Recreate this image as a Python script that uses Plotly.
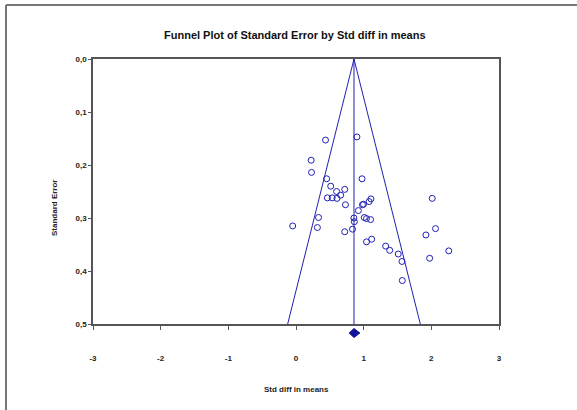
import plotly.graph_objects as go

# Study data
std_diff = [0.436, 0.900, 0.224, 0.229, 0.453, 0.976, 0.513, 0.600, 0.720, 0.464,
            0.535, 0.605, 0.660, 0.731, 1.107, 1.080, 2.013, 0.982, 0.998, 0.922,
            0.333, 0.856, 0.862, 1.009, 1.042, 1.102, -0.049, 0.316, 0.835, 0.720,
            2.062, 1.920, 1.118, 1.042, 1.325, 1.385, 2.258, 1.511, 1.566, 1.975,
            1.571]
std_err = [0.153, 0.147, 0.191, 0.214, 0.226, 0.226, 0.240, 0.250, 0.246, 0.262,
           0.262, 0.263, 0.257, 0.275, 0.264, 0.269, 0.263, 0.275, 0.274, 0.286,
           0.299, 0.300, 0.307, 0.299, 0.301, 0.303, 0.315, 0.318, 0.321, 0.326,
           0.320, 0.332, 0.340, 0.345, 0.353, 0.361, 0.362, 0.368, 0.382, 0.376,
           0.418]
summary_est = 0.857
summary_ci_low = 0.786
summary_ci_high = 0.944
se_max = 0.5
x_ticks = [-3, -2, -1, 0, 1, 2, 3]
y_ticks = [0.0, 0.1, 0.2, 0.3, 0.4, 0.5]

BLUE = "#1f1fb4"
NARROW = "Liberation Sans Narrow, Arial Narrow, Liberation Sans, Arial, sans-serif"

fig = go.Figure()
# funnel
fig.add_trace(go.Scatter(
    x=[summary_est - 1.96 * se_max, summary_est, summary_est + 1.96 * se_max],
    y=[se_max, 0, se_max], mode="lines",
    line=dict(color=BLUE, width=1), hoverinfo="skip", showlegend=False))
fig.add_trace(go.Scatter(
    x=[summary_est, summary_est], y=[0, se_max], mode="lines",
    line=dict(color=BLUE, width=1), hoverinfo="skip", showlegend=False))
# studies
fig.add_trace(go.Scatter(
    x=std_diff, y=std_err, mode="markers",
    marker=dict(symbol="circle-open", size=6, color=BLUE, line=dict(width=1, color=BLUE)),
    showlegend=False))

fig.update_xaxes(
    range=[-3, 3], tickvals=x_ticks, ticktext=[str(v) for v in x_ticks],
    showline=True, linecolor="#555555", linewidth=1.5, mirror=True,
    ticks="outside", ticklen=4, tickcolor="#555555", showgrid=False, zeroline=False,
    ticklabelstandoff=22,
    tickfont=dict(family=NARROW, size=8, color="#222222", weight="bold"))
fig.update_yaxes(
    range=[0.5, 0], tickvals=y_ticks, tickformat=".1f",
    showline=True, linecolor="#555555", linewidth=1.5, mirror=True,
    ticks="outside", ticklen=3, tickcolor="#555555", showgrid=False, zeroline=False,
    tickfont=dict(family=NARROW, size=8, color="#222222", weight="bold"))

W, H = 577, 410
L, R, T, B = 93, 499, 59, 324
pw, ph = R - L, B - T
px = lambda v: (v - L) / pw
py = lambda v: (B - v) / ph

# summary diamond (x from data, y in paper units just below the axis)
dy_c, dy_h = py(333), 4.5 / ph
diamond_path = (f"M {summary_ci_low},{dy_c} L {summary_est},{dy_c + dy_h} "
                f"L {summary_ci_high},{dy_c} L {summary_est},{dy_c - dy_h} Z")

fig.update_layout(
    width=W, height=H, separators=", ",
    margin=dict(l=L, r=W - R, t=T, b=H - B),
    paper_bgcolor="white", plot_bgcolor="white",
    annotations=[
        dict(text="Funnel Plot of Standard Error by Std diff in means", xref="paper", yref="paper",
             x=px(295), y=py(35), xanchor="center", yanchor="middle", showarrow=False,
             font=dict(family=NARROW, size=11, color="#111111", weight="bold")),
        dict(text="Std diff in means", xref="paper", yref="paper",
             x=px(296), y=py(389), xanchor="center", yanchor="middle", showarrow=False,
             font=dict(family=NARROW, size=8, color="#222222", weight="bold")),
        dict(text="Standard Error", xref="paper", yref="paper",
             x=px(54), y=py(208), xanchor="center", yanchor="middle", showarrow=False, textangle=-90,
             font=dict(family="Liberation Sans, Arial, sans-serif", size=8, color="#222222", weight="bold")),
    ],
    shapes=[
        dict(type="line", xref="paper", yref="paper", x0=px(6), x1=px(600), y0=py(5), y1=py(5),
             line=dict(color="#777777", width=2)),
        dict(type="line", xref="paper", yref="paper", x0=px(6), x1=px(6), y0=py(5), y1=py(420),
             line=dict(color="#777777", width=2)),
        dict(type="path", xref="x", yref="paper", path=diamond_path,
             fillcolor="#10109a", line=dict(color="#10109a", width=1)),
    ],
)

fig.write_html("out.html", config={"displayModeBar": False},
               post_script="document.body.style.margin='0';document.body.style.overflow='hidden';")
